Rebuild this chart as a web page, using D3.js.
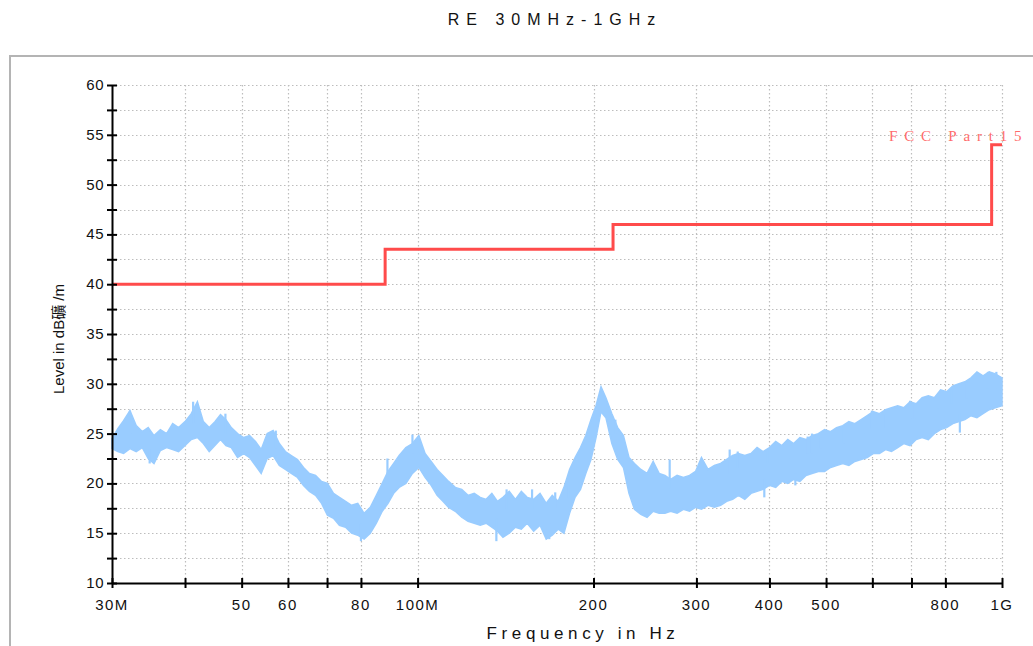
<!DOCTYPE html>
<html><head><meta charset="utf-8">
<script src="https://cdn.jsdelivr.net/npm/d3@7"></script>
<style>body{margin:0;background:#fff}svg{display:block}</style>
</head><body>
<svg id="chart" width="1033" height="646"></svg>
<script>
// ---- data ----
const traceFreq = [30,30.7,31.4,32.2,33,33.8,34.6,35.4,36.3,37.2,38.1,39,40,41,42,43,44,45,46,47,48,49.2,50.4,51.6,52.8,54,55.3,56.6,58,59.4,60.8,62.3,63.8,65.3,66.9,68.5,70.1,71.8,73.5,75.3,77.1,79,81,83,85,87,89,91,93,95.5,98,100.5,103,105.5,108,110.5,113,116,119,122,125,128,131,134,137,140,143.5,147,150.5,154,158,162,166,170,174,178,182,186,190,194,198,202,206,210,215,220,225,230,235,241,247,253,259,265,271,278,285,292,299,306,314,322,330,338,346,354,363,372,381,390,400,410,420,430,440,451,462,473,485,497,509,521,534,547,560,574,588,602,617,632,647,663,679,696,713,730,748,766,785,804,824,844,864,885,906,928,951,974,1000];
const traceLow = [23.5,23.2,23.0,23.5,23.2,23.6,22.5,22.0,23.3,23.6,23.4,23.2,23.8,24.4,24.6,24.0,23.2,23.8,24.4,23.8,23.6,22.6,23.0,22.6,21.8,21.0,22.5,22.8,21.8,21.4,21.0,20.6,19.8,19.2,18.8,18.0,16.8,16.5,15.8,15.6,15.0,14.8,14.4,15.0,16.0,17.2,18.0,19.0,19.6,20.0,21.0,21.6,20.6,19.8,18.8,18.2,17.6,17.2,16.6,16.2,16.0,15.8,16.0,15.6,15.2,14.6,15.0,15.6,15.4,16.0,15.2,15.8,14.4,14.8,15.4,15.0,17.0,18.6,19.4,21.0,22.4,24.6,27.2,26.6,24.0,22.4,21.6,19.0,17.4,16.9,16.6,17.2,17.0,17.0,17.2,17.0,17.4,17.2,17.6,17.4,17.8,17.6,17.8,18.2,18.4,18.8,18.4,19.0,19.2,19.4,19.8,19.6,20.2,20.0,20.4,20.2,20.8,21.0,21.2,21.2,21.6,21.8,22.0,21.8,22.2,22.4,22.6,23.0,23.0,23.4,23.2,23.6,24.0,23.8,24.4,24.6,24.4,25.0,25.4,25.6,26.0,26.2,26.4,26.8,26.6,27.0,27.4,27.6,27.8];
const traceHigh = [24.5,25.5,26.3,27.3,25.8,25.2,25.6,24.8,25.4,25.0,26.0,25.6,26.2,27.0,28.2,26.2,25.6,26.2,26.9,26.4,25.6,25.0,24.6,24.8,24.2,23.4,25.0,25.3,24.0,23.2,22.8,22.4,21.6,21.0,20.8,20.2,20.0,19.0,18.6,18.2,17.8,18.0,17.0,17.6,18.8,20.0,21.2,22.0,22.8,23.6,24.0,24.8,23.0,22.2,21.4,20.8,20.2,19.6,19.4,18.8,19.0,18.6,18.4,19.0,18.2,18.6,19.2,18.4,19.2,18.6,18.4,19.0,18.0,18.8,18.2,19.6,21.4,22.6,23.6,24.8,26.4,27.8,29.7,28.6,27.0,25.6,24.8,22.6,22.0,21.4,21.0,22.2,21.0,20.8,20.4,20.8,20.6,20.8,21.2,22.6,21.4,21.8,22.0,22.4,22.8,23.0,22.8,23.0,23.6,23.2,23.6,24.2,23.8,24.4,24.0,24.6,24.4,24.8,25.0,25.4,25.2,25.6,25.8,26.2,26.0,26.4,26.8,27.2,27.0,27.4,27.6,27.8,27.6,28.2,28.0,28.6,28.8,28.6,29.4,29.2,29.8,30.0,30.2,30.6,31.2,30.8,31.2,31.0,30.6];

// narrow spikes / notches: frequency, level where the spike leaves the band, tip level
const spikeFreq = [32.2,34.8,41.3,46.9,57.2,80,88.8,98,136.4,142,157,168,172,181,218,270,342,353,392,397,435,443,465,473,490,535,585,599,626,696,709,777,820,847,870,946,978];
const spikeFrom = [25,23.5,26,25,23.5,16,20,23,16.5,17.5,17.5,16,17.5,18.5,25,19.5,21,21.5,20.5,22,22.5,21,23,23,23.5,24,25,25.5,25.5,26.5,26.5,27.5,28,27,28.5,29.5,29.5];
const spikeTo   = [27.3,22.0,28.2,27.0,25.3,14.2,22.5,24.9,14.2,19.4,19.4,14.4,19.1,19.8,26.4,22.4,23.4,23.2,18.6,23.4,23.8,19.8,24.7,25.0,24.6,25.4,26.4,27.3,26.9,28.3,27.9,28.8,29.4,25.1,30.1,31.2,31.2];

const limitFreq  = [30, 88, 88, 216, 216, 960, 960, 1000];
const limitLevel = [40, 40, 43.5, 43.5, 46, 46, 54, 54];

const xTickValues = [30,40,50,60,70,80,100,200,300,400,500,600,700,800,1000];
const xLabelValues = [30,50,60,80,100,200,300,400,500,800,1000];
const xLabelTexts  = ["30M","50","60","80","100M","200","300","400","500","800","1G"];
const yTickValues = [10,12.5,15,17.5,20,22.5,25,27.5,30,32.5,35,37.5,40,42.5,45,47.5,50,52.5,55,57.5,60];
const yLabelValues = [10,15,20,25,30,35,40,45,50,55,60];

const titleText = "RE 30MHz-1GHz";
const xTitle = "Frequency in Hz";
const yTitle = "Level in dB礦 /m";
const limitName = "FCC Part15";

// ---- drawing ----
const svg = d3.select("#chart");
const x = d3.scaleLog().domain([30,1000]).range([112,1002]);
const y = d3.scaleLinear().domain([10,60]).range([583,85]);
const font = "'Liberation Sans', Arial, sans-serif";

// outer frame
svg.append("rect").attr("x",10).attr("y",56).attr("width",1040).attr("height",700)
  .attr("fill","none").attr("stroke","#b4b4b4").attr("stroke-width",2);

// title
svg.append("text").attr("x",555).attr("y",25).attr("text-anchor","middle")
  .style("font-family",font).style("font-size","16px").style("letter-spacing","7px")
  .attr("fill","#111").text(titleText);

// grid
const grid = svg.append("g").attr("stroke","#bdbdbd").attr("stroke-width",1.2).attr("stroke-dasharray","1.5,2.5");
grid.selectAll("line.h").data(yTickValues.filter(d=>d>10)).join("line")
  .attr("x1",x(30)).attr("x2",x(1000)).attr("y1",d=>Math.round(y(d))+0.5).attr("y2",d=>Math.round(y(d))+0.5);
grid.selectAll("line.v").data(xTickValues.filter(d=>d>30)).join("line").attr("class","v")
  .attr("y1",y(60)).attr("y2",y(10)).attr("x1",d=>Math.round(x(d))+0.5).attr("x2",d=>Math.round(x(d))+0.5);

// trace band
const area = d3.area()
  .x((d,i)=>x(traceFreq[i]))
  .y0((d,i)=>y(traceLow[i]))
  .y1((d,i)=>y(traceHigh[i]));
svg.append("path").datum(traceFreq).attr("d",area).attr("fill","#99ccff")
  .attr("stroke","#99ccff").attr("stroke-width",1.5).attr("stroke-linejoin","miter");
// spikes
svg.append("g").attr("stroke","#99ccff").attr("stroke-width",2.2)
  .selectAll("line").data(spikeFreq).join("line")
  .attr("x1",d=>x(d)).attr("x2",d=>x(d))
  .attr("y1",(d,i)=>y(spikeFrom[i])).attr("y2",(d,i)=>y(spikeTo[i]));

// limit line
const lim = d3.line().x((d,i)=>x(limitFreq[i])).y((d,i)=>y(limitLevel[i]));
svg.append("path").datum(limitFreq).attr("d",lim).attr("fill","none")
  .attr("stroke","#ff4b4b").attr("stroke-width",3);

svg.append("text").attr("x",889).attr("y",141)
  .style("font-family","'Liberation Serif','Times New Roman',serif").style("font-size","15px")
  .style("letter-spacing","6.8px").attr("fill","#ff6b6b").text(limitName);

// axes
const xAxis = d3.axisBottom(x).tickValues(xTickValues).tickFormat("").tickSize(5).tickSizeOuter(0);
const gx = svg.append("g").attr("transform",`translate(0,${y(10)})`).call(xAxis);
gx.select(".domain").attr("stroke","#000").attr("stroke-width",2);
gx.selectAll(".tick line").attr("y1",-5).attr("y2",5).attr("stroke","#000").attr("stroke-width",2);

const yAxis = d3.axisLeft(y).tickValues(yTickValues).tickFormat("").tickSize(5).tickSizeOuter(0);
const gy = svg.append("g").attr("transform",`translate(${x(30)},0)`).call(yAxis);
gy.select(".domain").attr("stroke","#000").attr("stroke-width",2);
gy.selectAll(".tick line").attr("x1",-5).attr("x2",5).attr("stroke","#000").attr("stroke-width",2);

// tick labels
svg.append("g").selectAll("text").data(xLabelValues).join("text")
  .attr("x",d=>x(d)).attr("y",610).attr("text-anchor","middle")
  .style("font-family",font).style("font-size","15px").style("letter-spacing","1.5px")
  .attr("fill","#111").text((d,i)=>xLabelTexts[i]);
svg.append("g").selectAll("text").data(yLabelValues).join("text")
  .attr("x",104).attr("y",d=>y(d)+5).attr("text-anchor","end")
  .style("font-family",font).style("font-size","15px").style("letter-spacing","0.5px")
  .attr("fill","#111").text(d=>d);

// axis titles
svg.append("text").attr("x",583).attr("y",639).attr("text-anchor","middle")
  .style("font-family",font).style("font-size","17px").style("letter-spacing","4.6px")
  .attr("fill","#111").text(xTitle);
svg.append("text").attr("transform","translate(64,339) rotate(-90)").attr("text-anchor","middle")
  .style("font-family",font+",'Noto Sans CJK TC'").style("font-size","15px")
  .attr("fill","#111").text(yTitle);
</script>
</body></html>
